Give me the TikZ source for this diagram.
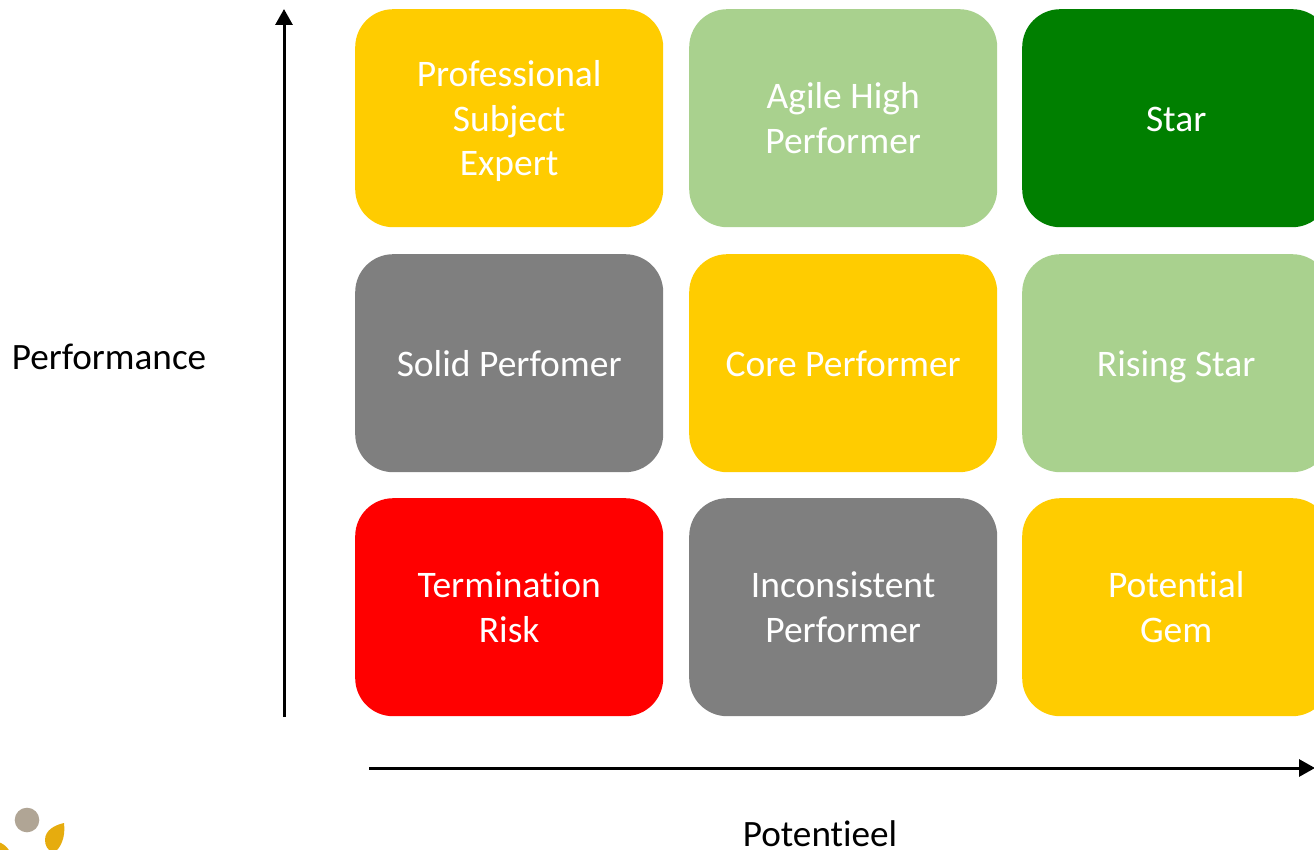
\documentclass[tikz,border=0pt]{standalone}
\usepackage{fontspec}
\setmainfont[Ligatures=NoCommon]{Carlito}
\usetikzlibrary{arrows.meta}
\definecolor{gold}{HTML}{FFCC00}
\definecolor{lgreen}{HTML}{A9D18E}
\definecolor{dgreen}{HTML}{007F00}
\definecolor{mgrey}{HTML}{7F7F7F}
\definecolor{mred}{HTML}{FF0000}
\definecolor{taupe}{HTML}{B0A595}
\definecolor{leaf}{HTML}{E6AC0E}
\newcommand\topstrut{\rule{0pt}{39.4pt}}
\newcommand\botstrut{\rule[-13.35pt]{0pt}{13.35pt}}
\tikzset{
  cell/.style={rounded corners=38pt,minimum width=308pt,minimum height=218pt,inner sep=0pt,
    text=white,align=center,font=\fontsize{37.5}{44.5}\selectfont,anchor=north west},
  axislabel/.style={text=black,inner sep=0pt,font=\fontsize{37.2}{44}\selectfont},
  axis/.style={line width=3pt,-{Triangle[length=16pt,width=17pt]},shorten >=0pt}
}
\begin{document}
\begin{tikzpicture}[x=1pt,y=-1pt]
\useasboundingbox (0,0) rectangle (1314,850);
\clip (0,0) rectangle (1314,850);
\node[cell,fill=gold] (a1) at (355,9) {\topstrut Professional\\Subject\\Expert\botstrut};
\node[cell,fill=lgreen] (a2) at (689,9) {\topstrut Agile High\\Performer\botstrut};
\node[cell,fill=dgreen] (a3) at (1022,9) {\topstrut Star\botstrut};
\node[cell,fill=mgrey] (b1) at (355,254) {\topstrut Solid Perfomer\botstrut};
\node[cell,fill=gold] (b2) at (689,254) {\topstrut Core Performer\botstrut};
\node[cell,fill=lgreen] (b3) at (1022,254) {\topstrut Rising Star\botstrut};
\node[cell,fill=mred] (c1) at (355,498) {\topstrut Termination\\Risk\botstrut};
\node[cell,fill=mgrey] (c2) at (689,498) {\topstrut Inconsistent\\Performer\botstrut};
\node[cell,fill=gold] (c3) at (1022,498) {\topstrut Potential\\Gem\botstrut};
\coordinate (ys) at (284,717);
\coordinate (ye) at (284,9);
\coordinate (xs) at (369,768);
\coordinate (xe) at (1315,768);
\draw[axis] (ys) -- (ye);
\draw[axis] (xs) -- (xe);
\node[axislabel] (perf) at (109,357) {Performance};
\node[axislabel] (pot) at (820,834) {Potentieel};
\fill[taupe] (27,820) circle (12.3);
\fill[leaf] (64,823) .. controls (55,825) and (45,830) .. (45,840) .. controls (45,846) and (48,850) .. (52,852) -- (55,852) .. controls (60,848) and (66,838) .. (64,823) -- cycle;
\fill[leaf] (-2,842) -- (1,843) .. controls (5,845) and (8,848) .. (10,852) -- (-2,852) -- cycle;
\end{tikzpicture}
\end{document}
